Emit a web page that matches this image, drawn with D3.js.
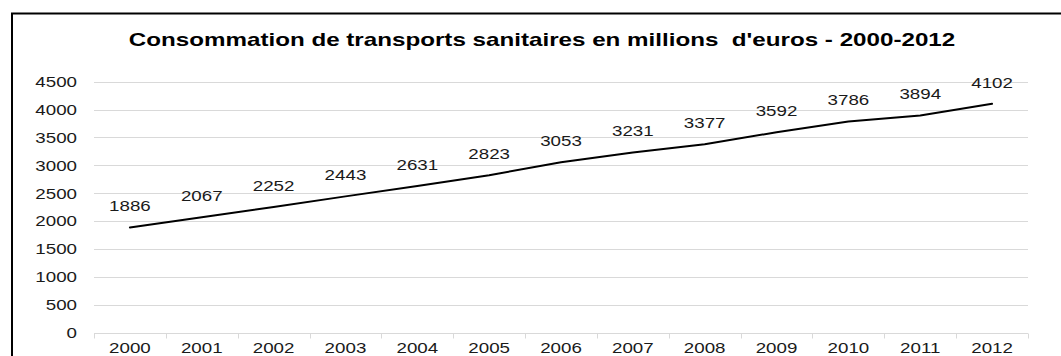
<!DOCTYPE html>
<html>
<head>
<meta charset="utf-8">
<script src="https://cdn.jsdelivr.net/npm/d3@7"></script>
<style>
  html, body { margin: 0; padding: 0; background: #fff; }
  svg { display: block; font-family: "Liberation Sans", Arial, sans-serif; }
</style>
</head>
<body>
<svg id="chart" width="1061" height="356"></svg>
<script>
// Consommation de transports sanitaires, en millions d'euros
const years = ["2000", "2001", "2002", "2003", "2004", "2005", "2006",
               "2007", "2008", "2009", "2010", "2011", "2012"];
const values = [1886, 2067, 2252, 2443, 2631, 2823, 3053,
                3231, 3377, 3592, 3786, 3894, 4102];
const yTicks = [0, 500, 1000, 1500, 2000, 2500, 3000, 3500, 4000, 4500];
const title = "Consommation de transports sanitaires en millions  d'euros - 2000-2012";

// text in this chart is drawn horizontally widened
const WIDEN = 1.25;
const TEXT = "#1a1a1a";

const svg = d3.select("#chart");

// place a text node at (x, y) with horizontal widening
function placed(sel, fx, fy, sx) {
  return sel
    .attr("x", 0).attr("y", 0)
    .attr("transform", (d, i) => `translate(${fx(d, i)},${fy(d, i)}) scale(${sx},1)`);
}

// outer frame (runs off the right and bottom edges)
svg.append("rect")
  .attr("x", 12).attr("y", 13.5)
  .attr("width", 1100).attr("height", 400)
  .attr("fill", "none")
  .attr("stroke", "#000")
  .attr("stroke-width", 2);

const x = d3.scaleBand().domain(years).range([94, 1028]);
const y = d3.scaleLinear().domain([0, 4500]).range([332.7, 81.6]);

// title
placed(svg.append("text").datum(title), () => 542, () => 45.7, 1.3)
  .attr("text-anchor", "middle")
  .attr("font-size", 18.6)
  .attr("font-weight", "bold")
  .attr("fill", "#000")
  .style("white-space", "pre")
  .text(title);

// horizontal gridlines
svg.append("g")
  .selectAll("line")
  .data(yTicks.filter(d => d > 0))
  .join("line")
  .attr("x1", 94).attr("x2", 1028)
  .attr("y1", d => Math.round(y(d)) + 0.5)
  .attr("y2", d => Math.round(y(d)) + 0.5)
  .attr("stroke", "#d9d9d9")
  .attr("stroke-width", 1);

// y axis labels
placed(
  svg.append("g").selectAll("text").data(yTicks).join("text"),
  () => 77, d => y(d) + 5.3, WIDEN)
  .attr("text-anchor", "end")
  .attr("font-size", 15)
  .attr("fill", TEXT)
  .text(d3.format("d"));

// x axis: baseline and tick marks on category boundaries
const xAxisY = Math.round(y(0)) + 0.5;
svg.append("line")
  .attr("x1", 94).attr("x2", 1028)
  .attr("y1", xAxisY).attr("y2", xAxisY)
  .attr("stroke", "#d9d9d9");
const bounds = years.map(d => x(d)).concat([x.range()[1]]);
svg.append("g")
  .selectAll("line")
  .data(bounds)
  .join("line")
  .attr("x1", d => Math.round(d) + 0.5).attr("x2", d => Math.round(d) + 0.5)
  .attr("y1", xAxisY).attr("y2", xAxisY + 5)
  .attr("stroke", "#d9d9d9");

placed(
  svg.append("g").selectAll("text").data(years).join("text"),
  d => x(d) + x.bandwidth() / 2, () => 353, WIDEN)
  .attr("text-anchor", "middle")
  .attr("font-size", 15)
  .attr("fill", TEXT)
  .text(d => d);

// the series line
const data = years.map((yr, i) => ({ yr, v: values[i] }));
const line = d3.line()
  .x(d => x(d.yr) + x.bandwidth() / 2)
  .y(d => y(d.v));
svg.append("path")
  .datum(data)
  .attr("d", line)
  .attr("fill", "none")
  .attr("stroke", "#000")
  .attr("stroke-width", 2)
  .attr("stroke-linejoin", "round")
  .attr("stroke-linecap", "round");

// value labels above each point
placed(
  svg.append("g").selectAll("text").data(data).join("text"),
  d => x(d.yr) + x.bandwidth() / 2, d => y(d.v) - 16, WIDEN)
  .attr("text-anchor", "middle")
  .attr("font-size", 15)
  .attr("fill", TEXT)
  .text(d => d.v);
</script>
</body>
</html>
